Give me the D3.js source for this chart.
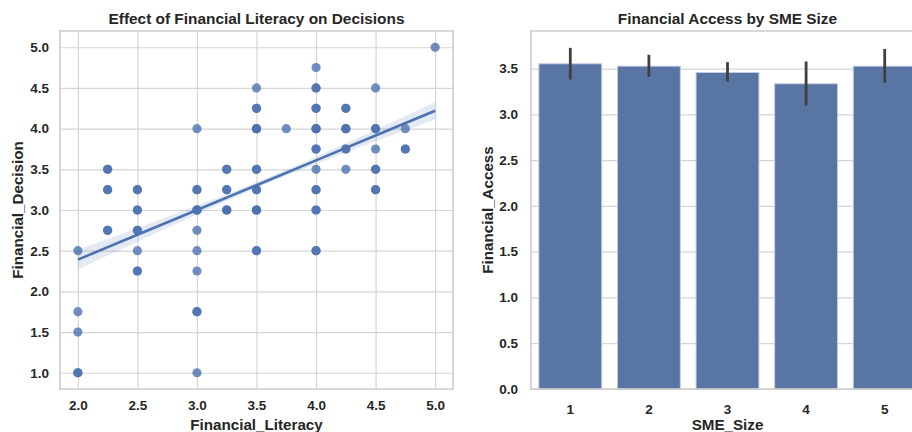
<!DOCTYPE html>
<html>
<head>
<meta charset="utf-8">
<script src="https://cdn.jsdelivr.net/npm/d3@7/dist/d3.min.js"></script>
<style>
  html, body { margin: 0; padding: 0; background: #ffffff; }
  svg { display: block; }
  text { font-family: "Liberation Sans", Arial, sans-serif; font-weight: bold; fill: #262626; }
</style>
</head>
<body>
<svg id="chart" width="912" height="432"></svg>
<script>
// ---- Scatter: financial literacy vs. decision score ----
const literacy = [2.0, 2.0, 2.0, 2.0,
  2.25, 2.25, 2.25,
  2.5, 2.5, 2.5, 2.5, 2.5,
  3.0, 3.0, 3.0, 3.0, 3.0, 3.0, 3.0, 3.0,
  3.25, 3.25, 3.25,
  3.5, 3.5, 3.5, 3.5, 3.5, 3.5, 3.5,
  3.75,
  4.0, 4.0, 4.0, 4.0, 4.0, 4.0, 4.0, 4.0, 4.0,
  4.25, 4.25, 4.25, 4.25,
  4.5, 4.5, 4.5, 4.5, 4.5,
  4.75, 4.75,
  5.0];
const decision = [2.5, 1.75, 1.5, 1.0,
  3.5, 3.25, 2.75,
  3.25, 3.0, 2.75, 2.5, 2.25,
  4.0, 3.25, 3.0, 2.75, 2.5, 2.25, 1.75, 1.0,
  3.5, 3.25, 3.0,
  4.5, 4.25, 4.0, 3.5, 3.25, 3.0, 2.5,
  4.0,
  4.75, 4.5, 4.25, 4.0, 3.75, 3.5, 3.25, 3.0, 2.5,
  4.25, 4.0, 3.75, 3.5,
  4.5, 4.0, 3.75, 3.5, 3.25,
  4.0, 3.75,
  5.0];
// how many respondents share each (literacy, decision) pair
const respondents = [1, 1, 1, 2,
  2, 2, 2,
  2, 2, 2, 1, 2,
  1, 2, 3, 1, 1, 1, 2, 1,
  2, 2, 3,
  1, 2, 3, 2, 2, 3, 2,
  1,
  1, 2, 2, 3, 2, 1, 2, 2, 2,
  2, 3, 2, 1,
  1, 2, 1, 2, 2,
  1, 2,
  1];

// fitted regression line with its 95% confidence band
const fitX = [2.0, 2.5, 3.0, 3.5, 4.0, 4.5, 5.0];
const fitY = [2.39, 2.695, 3.0, 3.305, 3.61, 3.915, 4.22];
const fitLow = [2.27, 2.61, 2.945, 3.269, 3.565, 3.844, 4.114];
const fitHigh = [2.51, 2.78, 3.055, 3.341, 3.655, 3.986, 4.326];

const litTicks = [2.0, 2.5, 3.0, 3.5, 4.0, 4.5, 5.0];
const decTicks = [1.0, 1.5, 2.0, 2.5, 3.0, 3.5, 4.0, 4.5, 5.0];

// ---- Bars: mean financial access by SME size ----
const smeSizes = ["1", "2", "3", "4", "5"];
const accessMean = [3.552, 3.526, 3.457, 3.334, 3.526];
const accessLow = [3.38, 3.41, 3.36, 3.097, 3.345];
const accessHigh = [3.726, 3.65, 3.57, 3.577, 3.714];
const accessTicks = [0.0, 0.5, 1.0, 1.5, 2.0, 2.5, 3.0, 3.5];

const svg = d3.select("#chart");
const gridColor = "#d5d5d5";
const spineColor = "#cccccc";
const blue = "#4c72b0";
const tickSize = 13.5;
const labelSize = 15.2;
const titleSize = 15.4;

function frame(g, x0, x1, y0, y1, sides) {
  const lines = {
    left: [x0, y0, x0, y1], right: [x1, y0, x1, y1],
    top: [x0, y0, x1, y0], bottom: [x0, y1, x1, y1]
  };
  sides.forEach(s => {
    const l = lines[s];
    g.append("line").attr("x1", l[0]).attr("y1", l[1]).attr("x2", l[2]).attr("y2", l[3])
      .attr("stroke", spineColor).attr("stroke-width", 1.6).attr("stroke-linecap", "square");
  });
}

function styleTicks(a) {
  a.selectAll(".tick text").attr("font-size", tickSize).attr("fill", "#262626")
    .style("font-family", "Liberation Sans, Arial, sans-serif").style("font-weight", "bold");
}

// ============ Left panel ============
{
  const L = 60, R = 453, T = 31, B = 389;
  const x = d3.scaleLinear().domain([1.85, 5.15]).range([L, R]);
  const y = d3.scaleLinear().domain([0.8, 5.2]).range([B, T]);
  const g = svg.append("g");

  // grid
  g.append("g").attr("transform", `translate(0,${B})`)
    .call(d3.axisBottom(x).tickValues(litTicks).tickSize(-(B - T)).tickFormat(d3.format(".1f")))
    .call(a => {
      a.select(".domain").remove();
      a.selectAll(".tick line").attr("stroke", gridColor).attr("stroke-width", 1.2);
      styleTicks(a);
      a.selectAll(".tick text").attr("dy", "1.3em");
    });
  g.append("g").attr("transform", `translate(${L},0)`)
    .call(d3.axisLeft(y).tickValues(decTicks).tickSize(-(R - L)).tickFormat(d3.format(".1f")))
    .call(a => {
      a.select(".domain").remove();
      a.selectAll(".tick line").attr("stroke", gridColor).attr("stroke-width", 1.2);
      styleTicks(a);
      a.selectAll(".tick text").attr("x", -11);
    });
  frame(g, L, R, T, B, ["left", "right", "top", "bottom"]);

  // points; stacked duplicates deepen the colour
  const pts = [];
  literacy.forEach((lx, i) => {
    for (let k = 0; k < respondents[i]; k++) pts.push([lx, decision[i]]);
  });
  g.append("g").selectAll("circle").data(pts).join("circle")
    .attr("cx", d => x(d[0])).attr("cy", d => y(d[1])).attr("r", 4.6)
    .attr("fill", blue).attr("fill-opacity", 0.8);

  // confidence band and fit line
  const band = fitX.map((v, i) => ({ x: v, lo: fitLow[i], hi: fitHigh[i], y: fitY[i] }));
  g.append("path").datum(band)
    .attr("d", d3.area().x(d => x(d.x)).y0(d => y(d.lo)).y1(d => y(d.hi)).curve(d3.curveMonotoneX))
    .attr("fill", blue).attr("fill-opacity", 0.15);
  g.append("path").datum(band)
    .attr("d", d3.line().x(d => x(d.x)).y(d => y(d.y)))
    .attr("fill", "none").attr("stroke", blue).attr("stroke-width", 2.6);

  g.append("text").attr("x", (L + R) / 2).attr("y", 23.5).attr("text-anchor", "middle")
    .attr("font-size", titleSize).text("Effect of Financial Literacy on Decisions");
  g.append("text").attr("x", (L + R) / 2).attr("y", 430).attr("text-anchor", "middle")
    .attr("font-size", labelSize).text("Financial_Literacy");
  g.append("text").attr("transform", `translate(22.5,${(T + B) / 2}) rotate(-90)`)
    .attr("text-anchor", "middle").attr("font-size", labelSize).text("Financial_Decision");
}

// ============ Right panel ============
{
  const L = 531, R = 924, T = 31, B = 389;
  const x = d3.scaleBand().domain(smeSizes).range([L, R]).paddingInner(0.2).paddingOuter(0.1);
  const y = d3.scaleLinear().domain([0, 3.91]).range([B, T]);
  const g = svg.append("g");

  g.append("g").attr("transform", `translate(${L},0)`)
    .call(d3.axisLeft(y).tickValues(accessTicks).tickSize(-(R - L)).tickFormat(d3.format(".1f")))
    .call(a => {
      a.select(".domain").remove();
      a.selectAll(".tick line").attr("stroke", gridColor).attr("stroke-width", 1.2);
      styleTicks(a);
      a.selectAll(".tick text").attr("x", -13);
    });
  g.append("g").attr("transform", `translate(0,${B})`)
    .call(d3.axisBottom(x).tickSize(0))
    .call(a => {
      a.select(".domain").remove();
      styleTicks(a);
      a.selectAll(".tick text").attr("dy", "1.65em");
    });

  g.append("g").selectAll("rect").data(smeSizes).join("rect")
    .attr("x", d => x(d)).attr("width", x.bandwidth())
    .attr("y", (d, i) => y(accessMean[i])).attr("height", (d, i) => B - y(accessMean[i]))
    .attr("fill", "#5975a4").attr("stroke", "#c2cde2").attr("stroke-width", 1);

  g.append("g").selectAll("line").data(smeSizes).join("line")
    .attr("x1", d => x(d) + x.bandwidth() / 2).attr("x2", d => x(d) + x.bandwidth() / 2)
    .attr("y1", (d, i) => y(accessLow[i])).attr("y2", (d, i) => y(accessHigh[i]))
    .attr("stroke", "#3f3f3f").attr("stroke-width", 2.8);

  frame(g, L, R, T, B, ["left", "right", "top", "bottom"]);

  g.append("text").attr("x", (L + R) / 2).attr("y", 23.5).attr("text-anchor", "middle")
    .attr("font-size", titleSize).text("Financial Access by SME Size");
  g.append("text").attr("x", (L + R) / 2).attr("y", 430).attr("text-anchor", "middle")
    .attr("font-size", labelSize).text("SME_Size");
  g.append("text").attr("transform", `translate(492.5,${(T + B) / 2}) rotate(-90)`)
    .attr("text-anchor", "middle").attr("font-size", labelSize).text("Financial_Access");
}
</script>
</body>
</html>
